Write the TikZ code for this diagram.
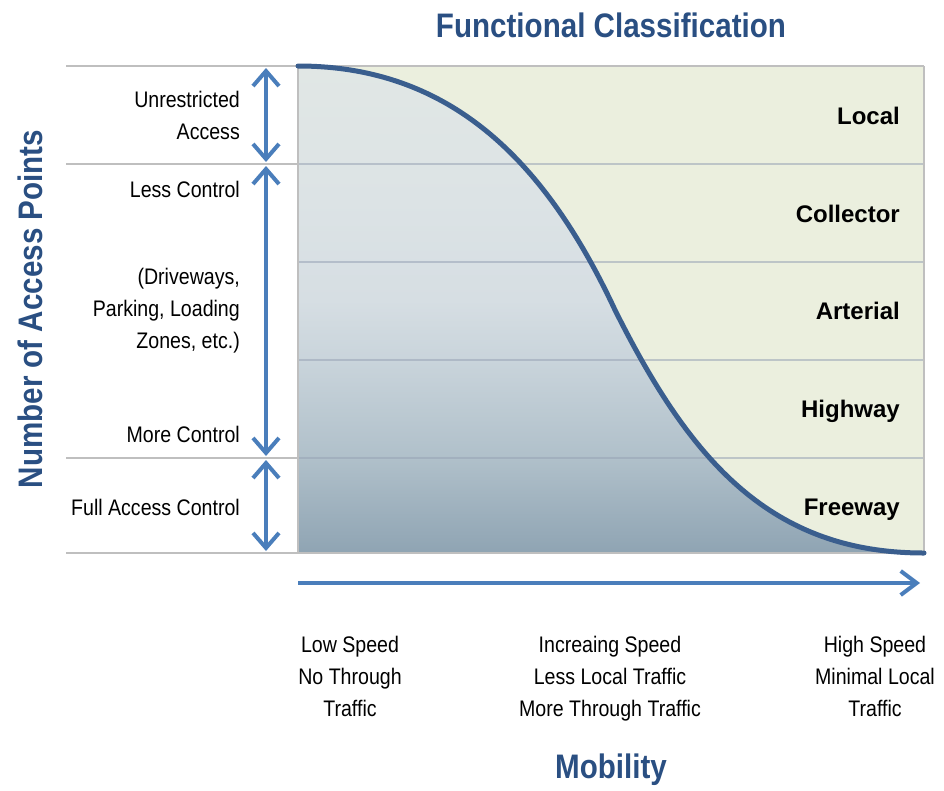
\documentclass[tikz,border=0pt]{standalone}
\usepackage{fontspec}
\setmainfont{Liberation Sans}
\newfontfamily\narrowfont[FakeStretch=0.87]{Liberation Sans}
\usetikzlibrary{arrows.meta}
\definecolor{titleblue}{HTML}{2A4F82}
\definecolor{arrowblue}{HTML}{4A7EBB}
\definecolor{curveblue}{HTML}{3A5E8E}
\definecolor{gridgray}{HTML}{BFBFBF}
\definecolor{innergrid}{HTML}{98A3B5}
\definecolor{paleGreen}{HTML}{EBEFDE}
\definecolor{sA}{HTML}{8FA4B3}
\definecolor{sB}{HTML}{B0C0CA}
\definecolor{sC}{HTML}{C9D4DB}
\definecolor{sD}{HTML}{D6DEE3}
\definecolor{sE}{HTML}{DCE3E5}
\definecolor{sF}{HTML}{E1E7E5}
\pgfdeclareverticalshading{areashade}{100bp}{color(0bp)=(sA); color(25bp)=(sA); color(34.8bp)=(sB); color(44.8bp)=(sC); color(51bp)=(sD); color(61.2bp)=(sE); color(75bp)=(sF); color(100bp)=(sF)}
\tikzset{
  gridline/.style={draw=gridgray, line width=2pt},
  innerline/.style={draw=innergrid, line width=2pt, opacity=0.55},
  dblarrow/.style={draw=arrowblue, line width=4pt,
    {Straight Barb[length=15pt,width=26pt,line width=4pt]}-{Straight Barb[length=15pt,width=26pt,line width=4pt]}},
  sglarrow/.style={draw=arrowblue, line width=4pt,
    -{Straight Barb[length=16pt,width=24pt,line width=4pt]}},
  bodytext/.style={font=\narrowfont\fontsize{22.5}{32}\selectfont, inner sep=0pt, text=black},
  lefttext/.style={bodytext, anchor=east, align=right},
  bottomtext/.style={bodytext, anchor=north, align=center},
  classtext/.style={font=\bfseries\fontsize{24}{28}\selectfont, anchor=base east, inner sep=0pt, text=black},
  headtext/.style={font=\narrowfont\bfseries\fontsize{34}{40}\selectfont, text=titleblue, inner sep=0pt}
}
\begin{document}
\begin{tikzpicture}[x=1pt,y=-1pt]
\useasboundingbox (0,0) rectangle (944,790);
% chart background
\fill[paleGreen] (298,66) rectangle (924,553);
\shade[shading=areashade]
  (298,66) .. controls (450,66) and (545,160) .. (615,310)
  .. controls (690,460) and (770,553) .. (924,553) -- (298,553) -- cycle;
% grid lines
\draw[gridline] (66,66) -- (924,66);
\draw[gridline] (66,164) -- (298,164);
\draw[innerline] (298,164) -- (924,164);
\draw[innerline] (298,262) -- (924,262);
\draw[innerline] (298,360) -- (924,360);
\draw[gridline] (66,458) -- (298,458);
\draw[innerline] (298,458) -- (924,458);
\draw[gridline] (66,553) -- (924,553);
\draw[gridline] (298,66) -- (298,553);
\draw[gridline] (924,66) -- (924,553);
% curve
\draw[curveblue, line width=5pt, line cap=round]
  (298,66) .. controls (450,66) and (545,160) .. (615,310)
  .. controls (690,460) and (770,553) .. (924,553);
% arrows
\coordinate (a1t) at (266,68);
\coordinate (a1b) at (266,162);
\coordinate (a2t) at (266,166);
\coordinate (a2b) at (266,456);
\coordinate (a3t) at (266,460);
\coordinate (a3b) at (266,551);
\coordinate (hx0) at (298,583);
\coordinate (hx1) at (920,583);
\draw[dblarrow] (a1t) -- (a1b);
\draw[dblarrow] (a2t) -- (a2b);
\draw[dblarrow] (a3t) -- (a3b);
\draw[sglarrow] (hx0) -- (hx1);
% titles
\node[headtext] (title) at (611,25) {Functional Classification};
\node[headtext] (mob) at (611,770) {Mobility};
\node[headtext, rotate=90] (ylab) at (30,309) {Number of Access Points};
% classes
\node[classtext] (local) at (900,124) {Local};
\node[classtext] (coll) at (900,222) {Collector};
\node[classtext] (art) at (900,319) {Arterial};
\node[classtext] (hwy) at (900,417) {Highway};
\node[classtext] (fwy) at (900,515) {Freeway};
% left labels
\node[lefttext] (unr) at (240,115) {Unrestricted\\Access};
\node[lefttext] (less) at (240,189) {Less Control};
\node[lefttext] (drv) at (240,311) {(Driveways,\\Parking, Loading\\Zones, etc.)};
\node[lefttext] (more) at (240,434) {More Control};
\node[lefttext] (full) at (240,507) {Full Access Control};
% bottom labels
\node[bottomtext] (low) at (350,636) {Low Speed\\No Through\\Traffic};
\node[bottomtext] (inc) at (610,636) {Increaing Speed\\Less Local Traffic\\More Through Traffic};
\node[bottomtext] (high) at (875,636) {High Speed\\Minimal Local\\Traffic};
\end{tikzpicture}
\end{document}
